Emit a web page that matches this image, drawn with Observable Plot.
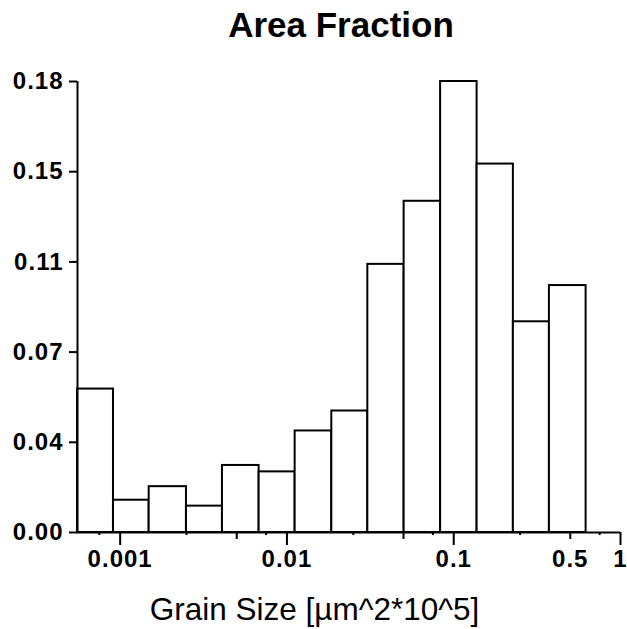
<!DOCTYPE html>
<html>
<head>
<meta charset="utf-8">
<script src="https://cdn.jsdelivr.net/npm/d3@7"></script>
<script src="https://cdn.jsdelivr.net/npm/@observablehq/plot@0.6"></script>
<style>
  html, body { margin: 0; padding: 0; background: #fff; }
  #chart svg { display: block; }
  g[font-size="24"] text, g[font-size="24"] { letter-spacing: 1px; }
</style>
</head>
<body>
<div id="chart"></div>
<script>
// Histogram bin edges (log-spaced)
const binEdges = [0.000555, 0.000912, 0.001493, 0.002498, 0.004106, 0.006813, 0.01120,
                  0.01858, 0.03055, 0.05043, 0.08346, 0.1381, 0.2279, 0.3748, 0.6220];
// Area fraction per bin
const areaFraction = [0.0582, 0.0131, 0.0186, 0.0107, 0.0272, 0.0246, 0.0412,
                      0.0493, 0.1088, 0.1344, 0.183, 0.1495, 0.0855, 0.1002];

const yTicks = [0, 0.0366, 0.0732, 0.1098, 0.1464, 0.183];
const xMajorTicks = [0.001, 0.01, 0.1, 1];
const xHalfTicks = [0.005, 0.05, 0.5];
const xMinorTicks = [0.00075, 0.0025, 0.0075, 0.025, 0.075, 0.25, 0.75];
const xTickLabels = [0.001, 0.01, 0.1, 0.5, 1];
const titleText = "Area Fraction";
const xLabelText = "Grain Size [µm^2*10^5]";

const bars = areaFraction.map((v, i) => ({x1: binEdges[i], x2: binEdges[i + 1], y: v}));
const xDomain = [binEdges[0], 1];
const font = "Arial, 'Liberation Sans', Helvetica, sans-serif";

const chart = Plot.plot({
  width: 627,
  height: 629,
  marginLeft: 77,
  marginRight: 7,
  marginTop: 81,
  marginBottom: 97,
  style: {fontFamily: font, background: "white", color: "black", overflow: "visible"},
  x: {type: "log", domain: xDomain, axis: null},
  y: {domain: [0, 0.183], axis: null},
  marks: [
    Plot.rectY(bars, {x1: "x1", x2: "x2", y: "y", fill: "white", stroke: "black", strokeWidth: 2}),
    Plot.ruleY([0], {stroke: "black", strokeWidth: 2}),
    Plot.ruleX([xDomain[0]], {stroke: "black", strokeWidth: 2}),
    Plot.axisY({ticks: yTicks, tickSize: 8, tickFormat: () => "", label: null, strokeWidth: 2}),
    Plot.axisX({ticks: xMajorTicks, tickSize: 13, tickFormat: () => "", label: null, strokeWidth: 2}),
    Plot.axisX({ticks: xHalfTicks, tickSize: 7, tickFormat: () => "", label: null, strokeWidth: 2}),
    Plot.axisX({ticks: xMinorTicks, tickSize: 3, tickFormat: () => "", label: null, strokeWidth: 2}),
    Plot.text(yTicks, {y: d => d, text: d => d.toFixed(2), frameAnchor: "left", dx: -14,
                       textAnchor: "end", lineAnchor: "middle", fontSize: 24, fontWeight: "bold",
                       fill: "black"}),
    Plot.text(xTickLabels, {x: d => d, text: d => String(d), frameAnchor: "bottom", dy: 17,
                            dx: 0, lineAnchor: "top", fontSize: 24, fontWeight: "bold",
                            fill: "black"}),
    Plot.text([titleText], {frameAnchor: "top", dx: -8, dy: -45, lineAnchor: "bottom",
                            fontSize: 35, fontWeight: "bold", fill: "black"}),
    Plot.text([xLabelText], {frameAnchor: "bottom", dx: -34.5, dy: 87, lineAnchor: "bottom",
                             fontSize: 31.5, fontWeight: "normal", fill: "black"})
  ]
});
document.getElementById("chart").appendChild(chart);
</script>
</body>
</html>
